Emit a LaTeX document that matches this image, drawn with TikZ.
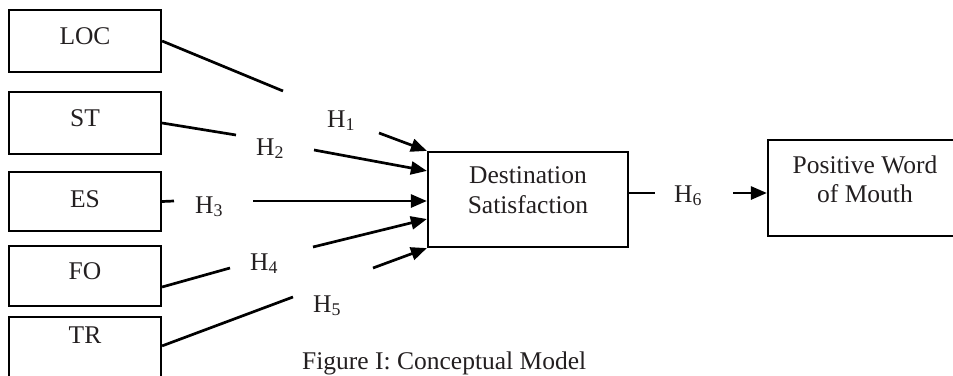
\documentclass[tikz,border=0pt]{standalone}
\usepackage{fontspec}
\setmainfont{Liberation Serif}
\usetikzlibrary{arrows.meta,calc}
\definecolor{ink}{HTML}{231F20}
\begin{document}
\begin{tikzpicture}[x=1pt,y=-1pt,
  box/.style={draw=black,line width=2.2pt,rectangle,inner sep=0pt},
  txt/.style={text=ink,font=\fontsize{25.5}{30}\selectfont,inner sep=0pt,anchor=base},
  hlab/.style={txt,anchor=base west},
  link/.style={line width=2.7pt,line cap=butt},
  arr/.style={link,-{Triangle[length=16pt,width=13pt]}}]
\useasboundingbox (0,0) rectangle (953,375);
\clip (0,0) rectangle (953,375);

% boxes
\node[box,minimum width=152pt,minimum height=62pt] (loc) at (85,41) {};
\node[box,minimum width=152pt,minimum height=62pt] (st) at (85,123) {};
\node[box,minimum width=152pt,minimum height=59pt] (es) at (85,201.5) {};
\node[box,minimum width=152pt,minimum height=60pt] (fo) at (85,276) {};
\node[box,minimum width=152pt,minimum height=83pt] (tr) at (85,358.5) {};
\node[box,minimum width=200pt,minimum height=95pt] (dest) at (528,199.5) {};
\node[box,minimum width=194pt,minimum height=96pt] (pwom) at (865,188) {};

% box texts
\node[txt] (tloc) at (85,44) {LOC};
\node[txt] (tst) at (85,126) {ST};
\node[txt] (tes) at (85,207) {ES};
\node[txt] (tfo) at (85,279) {FO};
\node[txt] (ttr) at (85,343) {TR};
\node[txt] (tdest1) at (528,183) {Destination};
\node[txt] (tdest2) at (528,213) {Satisfaction};
\node[txt] (tpw1) at (865,173) {Positive Word};
\node[txt] (tpw2) at (865,202) {of Mouth};

% hypothesis labels
\node[hlab] (h1) at (327,127) {H\textsubscript{1}};
\node[hlab] (h2) at (256,155) {H\textsubscript{2}};
\node[hlab] (h3) at (195,213) {H\textsubscript{3}};
\node[hlab] (h4) at (250,270) {H\textsubscript{4}};
\node[hlab] (h5) at (313,312) {H\textsubscript{5}};
\node[hlab] (h6) at (674,202) {H\textsubscript{6}};

% free ends of the broken connectors
\coordinate (c1) at (283,91);   \coordinate (a1) at (379,133);
\coordinate (c2) at (236,135);  \coordinate (a2) at (314,150);
\coordinate (c3) at (174,201);  \coordinate (a3) at (253,201);
\coordinate (c4) at (230,268);  \coordinate (a4) at (313,247);
\coordinate (c5) at (293,297);  \coordinate (a5) at (373,268);
\coordinate (c6) at (655,193);  \coordinate (a6) at (733,193);

% connectors
\draw[link] (loc.east) -- (c1);
\draw[arr] (a1) -- (dest.north west);
\draw[link] (st.east) -- (c2);
\draw[arr] (a2) -- ([yshift=-20pt]dest.north west);
\draw[link] (es.east) -- (c3);
\draw[arr] (a3) -- (a3 -| dest.west);
\draw[link] ([yshift=-11pt]fo.east) -- (c4);
\draw[arr] (a4) -- ([yshift=-19.5pt]dest.west);
\draw[link] ([yshift=-30pt]tr.north east) -- (c5);
\draw[arr] (a5) -- (dest.south west);
\draw[link] (dest.east |- c6) -- (c6);
\draw[arr] (a6) -- (a6 -| pwom.west);

% caption
\node[txt,anchor=base west] (cap) at (302,369) {Figure I: Conceptual Model};
\end{tikzpicture}
\end{document}
